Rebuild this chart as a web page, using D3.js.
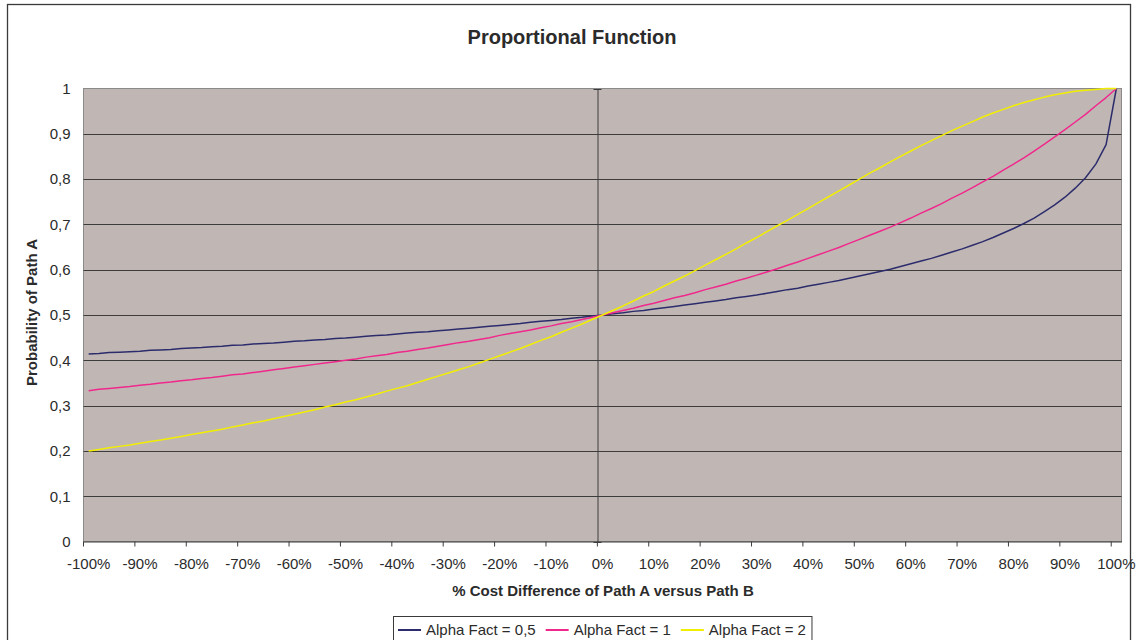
<!DOCTYPE html>
<html>
<head>
<meta charset="utf-8">
<script src="https://cdn.jsdelivr.net/npm/d3@7"></script>
<style>
  body { margin: 0; background: #fff; }
  svg { display: block; font-family: "Liberation Sans", Arial, sans-serif; }
</style>
</head>
<body>
<svg id="chart" width="1141" height="640"></svg>
<script>
// Cost difference of path A versus path B, in percent (category axis)
const categories = [
  -100, -98, -96, -94, -92, -90, -88, -86, -84, -82,
  -80, -78, -76, -74, -72, -70, -68, -66, -64, -62,
  -60, -58, -56, -54, -52, -50, -48, -46, -44, -42,
  -40, -38, -36, -34, -32, -30, -28, -26, -24, -22,
  -20, -18, -16, -14, -12, -10, -8, -6, -4, -2,
  0,
  2, 4, 6, 8, 10, 12, 14, 16, 18, 20,
  22, 24, 26, 28, 30, 32, 34, 36, 38, 40,
  42, 44, 46, 48, 50, 52, 54, 56, 58, 60,
  62, 64, 66, 68, 70, 72, 74, 76, 78, 80,
  82, 84, 86, 88, 90, 92, 94, 96, 98, 100
];

// Probability of path A, Alpha Fact = 0,5
const alpha05 = [
  0.414, 0.415, 0.417, 0.418, 0.419, 0.420, 0.422, 0.423, 0.424, 0.426,
  0.427, 0.428, 0.430, 0.431, 0.433, 0.434, 0.436, 0.437, 0.438, 0.440,
  0.442, 0.443, 0.445, 0.446, 0.448, 0.449, 0.451, 0.453, 0.455, 0.456,
  0.458, 0.460, 0.462, 0.463, 0.465, 0.467, 0.469, 0.471, 0.473, 0.475,
  0.477, 0.479, 0.481, 0.484, 0.486, 0.488, 0.490, 0.493, 0.495, 0.498,
  0.500,
  0.503, 0.505, 0.508, 0.510, 0.513, 0.516, 0.519, 0.522, 0.525, 0.528,
  0.531, 0.534, 0.538, 0.541, 0.544, 0.548, 0.552, 0.556, 0.559, 0.564,
  0.568, 0.572, 0.576, 0.581, 0.586, 0.591, 0.596, 0.601, 0.607, 0.613,
  0.619, 0.625, 0.632, 0.639, 0.646, 0.654, 0.662, 0.671, 0.681, 0.691,
  0.702, 0.714, 0.728, 0.743, 0.760, 0.780, 0.803, 0.833, 0.876, 1.000
];

// Probability of path A, Alpha Fact = 1
const alpha1 = [
  0.333, 0.336, 0.338, 0.340, 0.342, 0.345, 0.347, 0.350, 0.352, 0.355,
  0.357, 0.360, 0.362, 0.365, 0.368, 0.370, 0.373, 0.376, 0.379, 0.382,
  0.385, 0.388, 0.391, 0.394, 0.397, 0.400, 0.403, 0.407, 0.410, 0.413,
  0.417, 0.420, 0.424, 0.427, 0.431, 0.435, 0.439, 0.442, 0.446, 0.450,
  0.455, 0.459, 0.463, 0.467, 0.472, 0.476, 0.481, 0.485, 0.490, 0.495,
  0.500,
  0.505, 0.510, 0.515, 0.521, 0.526, 0.532, 0.538, 0.543, 0.549, 0.556,
  0.562, 0.568, 0.575, 0.581, 0.588, 0.595, 0.602, 0.610, 0.617, 0.625,
  0.633, 0.641, 0.649, 0.658, 0.667, 0.676, 0.685, 0.694, 0.704, 0.714,
  0.725, 0.735, 0.746, 0.758, 0.769, 0.781, 0.794, 0.806, 0.820, 0.833,
  0.847, 0.862, 0.877, 0.893, 0.909, 0.926, 0.943, 0.962, 0.980, 1.000
];

// Probability of path A, Alpha Fact = 2
const alpha2 = [
  0.200, 0.203, 0.207, 0.210, 0.213, 0.217, 0.221, 0.224, 0.228, 0.232,
  0.236, 0.240, 0.244, 0.248, 0.253, 0.257, 0.262, 0.266, 0.271, 0.276,
  0.281, 0.286, 0.291, 0.297, 0.302, 0.308, 0.313, 0.319, 0.325, 0.332,
  0.338, 0.344, 0.351, 0.358, 0.365, 0.372, 0.379, 0.386, 0.394, 0.402,
  0.410, 0.418, 0.426, 0.435, 0.444, 0.452, 0.462, 0.471, 0.480, 0.490,
  0.500,
  0.510, 0.520, 0.531, 0.542, 0.552, 0.564, 0.575, 0.586, 0.598, 0.610,
  0.622, 0.634, 0.646, 0.659, 0.671, 0.684, 0.697, 0.709, 0.722, 0.735,
  0.748, 0.761, 0.774, 0.787, 0.800, 0.813, 0.825, 0.838, 0.850, 0.862,
  0.874, 0.885, 0.896, 0.907, 0.917, 0.927, 0.937, 0.946, 0.954, 0.962,
  0.969, 0.975, 0.981, 0.986, 0.990, 0.994, 0.996, 0.998, 1.000, 1.000
];

// Labelled categories and their texts
const xTickValues = [-100, -90, -80, -70, -60, -50, -40, -30, -20, -10, 0,
                     10, 20, 30, 40, 50, 60, 70, 80, 90, 100];
const xTickLabels = ["-100%", "-90%", "-80%", "-70%", "-60%", "-50%", "-40%", "-30%",
                     "-20%", "-10%", "0%", "10%", "20%", "30%", "40%", "50%", "60%",
                     "70%", "80%", "90%", "100%"];
const yTickValues = [0, 0.1, 0.2, 0.3, 0.4, 0.5, 0.6, 0.7, 0.8, 0.9, 1];
const yTickLabels = ["0", "0,1", "0,2", "0,3", "0,4", "0,5", "0,6", "0,7", "0,8", "0,9", "1"];

const seriesNames = ["Alpha Fact = 0,5", "Alpha Fact = 1", "Alpha Fact = 2"];
const seriesValues = [alpha05, alpha1, alpha2];
const seriesColors = ["#2c2c6c", "#f0288c", "#f2ee00"];

const svg = d3.select("#chart");
const textColor = "#2b2b2b";

// Outer chart frame
svg.append("rect")
  .attr("x", 7.5).attr("y", 4.5)
  .attr("width", 1123).attr("height", 700)
  .attr("fill", "#fff").attr("stroke", "#3a3a3a").attr("stroke-width", 1.3);

const plot = { left: 83.5, right: 1121.5, top: 88.5, bottom: 541.5 };

const x = d3.scaleBand().domain(categories).range([plot.left, plot.right]);
const bw = x.bandwidth();
const cx = c => x(c) + bw / 2;
const y = d3.scaleLinear().domain([0, 1]).range([plot.bottom, plot.top]);

// Plot area
svg.append("rect")
  .attr("x", plot.left).attr("y", plot.top)
  .attr("width", plot.right - plot.left).attr("height", plot.bottom - plot.top)
  .attr("fill", "#c0b7b4").attr("stroke", "#8a8a8a").attr("stroke-width", 1);

// Horizontal gridlines
svg.append("g")
  .selectAll("line")
  .data(yTickValues.filter(v => v > 0 && v < 1))
  .join("line")
  .attr("x1", plot.left).attr("x2", plot.right)
  .attr("y1", d => Math.round(y(d)) + 0.5).attr("y2", d => Math.round(y(d)) + 0.5)
  .attr("stroke", "#3c3c3c").attr("stroke-width", 1);

// Value axis crossing at 0 %, with cross tick marks
const yAxisCross = svg.append("g")
  .attr("transform", `translate(${Math.round(x(0)) + 0.5},0)`)
  .call(d3.axisLeft(y).tickValues(yTickValues).tickFormat("").tickSizeOuter(0));
yAxisCross.select(".domain").attr("stroke", "#3c3c3c");
yAxisCross.selectAll(".tick line").attr("x1", -4).attr("x2", 4).attr("stroke", "#3c3c3c");
yAxisCross.selectAll(".tick").attr("transform", d => `translate(0,${Math.round(y(d)) + 0.5})`);

// Value labels on the left edge
const yLabels = svg.append("g")
  .attr("transform", `translate(${plot.left},0)`)
  .call(d3.axisLeft(y).tickValues(yTickValues)
    .tickFormat((d, i) => yTickLabels[i]).tickSize(0).tickPadding(13));
yLabels.select(".domain").remove();
yLabels.selectAll("text")
  .attr("font-size", 15).attr("fill", textColor)
  .attr("font-family", "'Liberation Sans', Arial, sans-serif");

// Series lines
const line = d3.line()
  .x((d, i) => cx(categories[i]))
  .y(d => y(d));

svg.append("g")
  .selectAll("path")
  .data(seriesValues)
  .join("path")
  .attr("d", d => line(d))
  .attr("fill", "none")
  .attr("stroke", (d, i) => seriesColors[i])
  .attr("stroke-width", 1.5)
  .attr("stroke-linejoin", "round");

// Category axis
const xAxis = svg.append("g")
  .attr("transform", `translate(0,${plot.bottom})`)
  .call(d3.axisBottom(x).tickValues(xTickValues)
    .tickFormat((d, i) => xTickLabels[i]).tickSize(5).tickSizeOuter(0).tickPadding(12));
xAxis.select(".domain").attr("stroke", "#3c3c3c");
xAxis.selectAll(".tick line")
  .attr("x1", -bw / 2).attr("x2", -bw / 2).attr("stroke", "#3c3c3c");
xAxis.selectAll("text")
  .attr("font-size", 15).attr("fill", textColor)
  .attr("font-family", "'Liberation Sans', Arial, sans-serif");

// Titles
svg.append("text")
  .attr("x", 572).attr("y", 44)
  .attr("text-anchor", "middle")
  .attr("font-size", 20).attr("font-weight", "bold").attr("fill", textColor)
  .text("Proportional Function");

svg.append("text")
  .attr("x", 603).attr("y", 596)
  .attr("text-anchor", "middle")
  .attr("font-size", 15).attr("font-weight", "bold").attr("fill", textColor)
  .text("% Cost Difference of Path A versus Path B");

svg.append("text")
  .attr("transform", "translate(37,312.5) rotate(-90)")
  .attr("text-anchor", "middle")
  .attr("font-size", 15).attr("font-weight", "bold").attr("fill", textColor)
  .text("Probability of Path A");

// Legend
const legend = svg.append("g");
const legendBox = legend.append("rect")
  .attr("x", 393.5).attr("y", 616.5)
  .attr("height", 40)
  .attr("fill", "#fff").attr("stroke", "#3a3a3a").attr("stroke-width", 1);

let lx = 398;
seriesNames.forEach((name, i) => {
  legend.append("line")
    .attr("x1", lx).attr("x2", lx + 23)
    .attr("y1", 630).attr("y2", 630)
    .attr("stroke", seriesColors[i]).attr("stroke-width", 2);
  const t = legend.append("text")
    .attr("x", lx + 28).attr("y", 635)
    .attr("font-size", 15).attr("fill", textColor)
    .text(name);
  lx += 28 + t.node().getComputedTextLength() + 10;
});
legendBox.attr("width", lx - 393.5 - 4);
</script>
</body>
</html>
